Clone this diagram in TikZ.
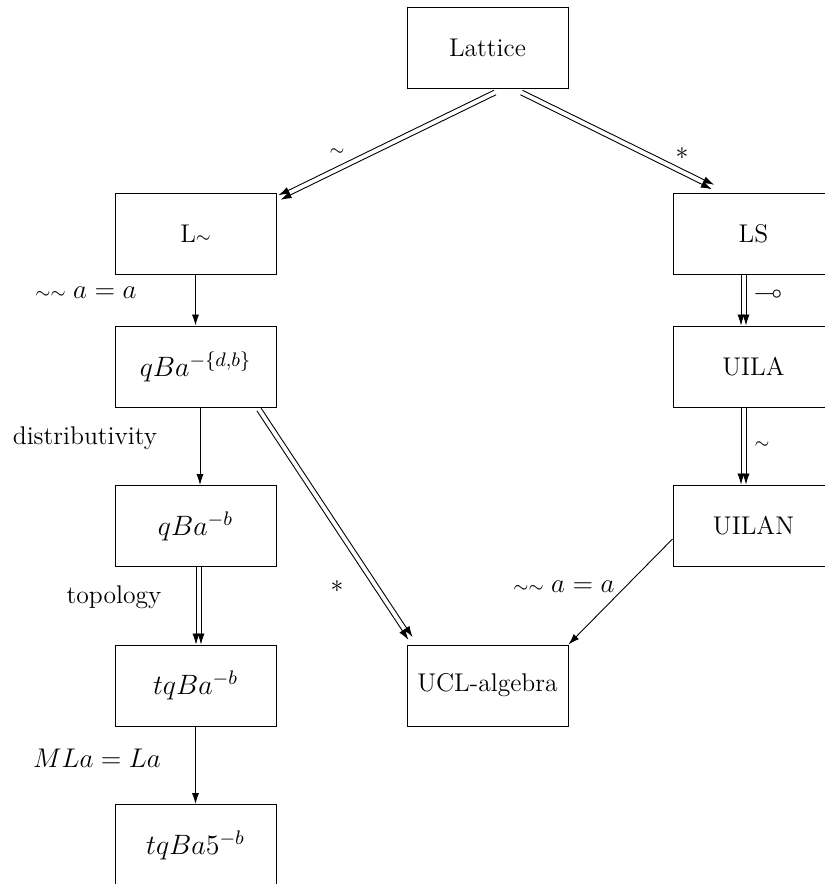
\documentclass[tikz,border=0pt]{standalone}
\usepackage{fix-cm}
\usepackage{amssymb}
\usetikzlibrary{arrows.meta,calc}
\newcommand{\tsim}{{\scriptstyle\sim}}
\tikzset{
  box/.style={draw, line width=0.5pt, minimum width=80.5pt, minimum height=40.5pt, inner sep=0pt},
  mbox/.style={box, font=\fontsize{14}{17}\selectfont},
  arr/.style={line width=0.45pt, -{Latex[length=5.5pt,width=3.6pt]}},
  lbl/.style={inner sep=0pt},
  mlbl/.style={inner sep=0pt, font=\fontsize{13.5}{16}\selectfont},
}
\newcommand{\dblarr}[2]{%
  \draw[arr] ($(#1)!1.25pt!90:(#2)$) -- ($(#2)!1.25pt!-90:(#1)$);
  \draw[arr] ($(#1)!1.25pt!-90:(#2)$) -- ($(#2)!1.25pt!90:(#1)$);}
\begin{document}
\begin{tikzpicture}[x=0.5pt,y=-0.5pt,every node/.style={font=\fontsize{12.8}{15}\selectfont}]
\useasboundingbox (0,0) rectangle (825,884);
\clip (0,0) rectangle (825,884);
% nodes
\node[box] (lat) at (487.5,47.5) {Lattice};
\node[box] (lsim) at (195.5,233.5) {L$\tsim$};
\node[box] (ls) at (753.5,233.5) {LS};
\node[mbox] (qb1) at (195.5,366.5) {$qBa^{-\{d,b\}}$};
\node[box] (uila) at (753.5,366.5) {UILA};
\node[mbox] (qb2) at (195.5,526) {$qBa^{-b}$};
\node[box] (uilan) at (753.5,525.5) {UILAN};
\node[mbox] (tqb) at (195.5,685.5) {$tqBa^{-b}$};
\node[box] (ucl) at (487.5,685.5) {UCL-algebra};
\node[mbox] (tqb5) at (195.5,845) {$tqBa5^{-b}$};
% anchor coordinates
\coordinate (a1) at ([shift={(7.5,4)}]lat.south);
\coordinate (a2) at ([shift={(3,5)}]lsim.north east);
\coordinate (b1) at ([shift={(34,4)}]lat.south);
\coordinate (b2) at ([shift={(40.5,-5.5)}]ls.north west);
\coordinate (c1) at ([shift={(-17.5,2)}]qb1.south east);
\coordinate (c2) at ([shift={(4,-6)}]ucl.north west);
\coordinate (d1) at ([shift={(3,0)}]qb2.south);
\coordinate (d2) at ([shift={(3,0)}]tqb.north);
\coordinate (e1) at ([shift={(-10,0)}]ls.south);
\coordinate (e2) at ([shift={(-10,0)}]uila.north);
\coordinate (f1) at ([shift={(-10,0)}]uila.south);
\coordinate (f2) at ([shift={(-10,0)}]uilan.north);
\coordinate (g1) at ([shift={(0,13.5)}]uilan.west);
\coordinate (h1) at ([shift={(4.5,0)}]qb1.south);
\coordinate (h2) at ([shift={(4.5,0)}]qb2.north);
% double arrows
\dblarr{a1}{a2}
\dblarr{b1}{b2}
\dblarr{c1}{c2}
\dblarr{d1}{d2}
\dblarr{e1}{e2}
\dblarr{f1}{f2}
% single arrows
\draw[arr] (lsim.south) -- (qb1.north);
\draw[arr] (h1) -- (h2);
\draw[arr] (tqb.south) -- (tqb5.north);
\draw[arr] (g1) -- (ucl.north east);
% labels
\node[lbl] (l1) at (337,152) {$\tsim$};
\node[lbl] (l2) at (682,154) {$*$};
\node[mlbl] (l3) at (86,293) {$\tsim\tsim\; a = a$};
\node[lbl] (l4) at (768,293) {$\multimap$};
\node[lbl] (l5) at (85,438) {distributivity};
\node[lbl] (l6) at (762,445) {$\tsim$};
\node[lbl] (l7) at (114,597) {topology};
\node[lbl] (l8) at (337,587) {$*$};
\node[mlbl] (l9) at (564,587) {$\tsim\tsim\; a = a$};
\node[mlbl] (l10) at (97,758) {$MLa = La$};
\end{tikzpicture}
\end{document}
